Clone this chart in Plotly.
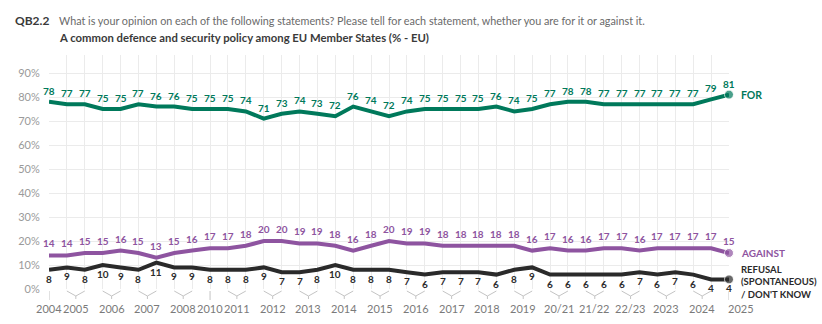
import plotly.graph_objects as go

# Survey waves, 2004 -> 2025 (one entry per wave)
year_labels = ["2004", "2005", "2006", "2007", "2008", "2010", "2011", "2012", "2013",
               "2014", "2015", "2016", "2017", "2018", "2019", "20/21", "21/22",
               "22/23", "2023", "2024", "2025"]
waves_per_year = [1, 2, 2, 2, 2, 1, 2, 2, 2, 2, 2, 2, 2, 2, 2, 2, 2, 2, 2, 2, 1]

for_values = [78, 77, 77, 75, 75, 77, 76, 76, 75, 75, 75, 74, 71, 73, 74, 73, 72, 76, 74, 72,
              74, 75, 75, 75, 75, 76, 74, 75, 77, 78, 78, 77, 77, 77, 77, 77, 77, 79, 81]
against_values = [14, 14, 15, 15, 16, 15, 13, 15, 16, 17, 17, 18, 20, 20, 19, 19, 18, 16, 18, 20,
                  19, 19, 18, 18, 18, 18, 18, 16, 17, 16, 16, 17, 17, 16, 17, 17, 17, 17, 15]
refusal_values = [8, 9, 8, 10, 9, 8, 11, 9, 9, 8, 8, 8, 9, 7, 7, 8, 10, 8, 8, 8,
                  7, 6, 7, 7, 7, 6, 8, 9, 6, 6, 6, 6, 6, 7, 6, 7, 6, 4, 4]

series = [
    ("FOR", for_values, "#00795b", 11, 10.5),
    ("AGAINST", against_values, "#8e54a0", 12, 10),
    ("REFUSAL<br>(SPONTANEOUS)<br>/ DON'T KNOW", refusal_values, "#2a2a2a", -9, 9.5),
]

FONT = "Segoe UI, Lato, sans-serif"
W, H = 822, 324
M_L, M_R, M_T, M_B = 49, 93, 55, 35
PLOT_H = H - M_T - M_B

x = list(range(len(for_values)))
fig = go.Figure()
annotations = []
shapes = []

for name, vals, color, shift, name_size in series:
    n = len(vals)
    fig.add_trace(go.Scatter(
        x=x, y=vals, mode="lines+markers", name=name,
        line=dict(color=color, width=4),
        marker=dict(size=[0] * (n - 1) + [9], color=color),
        cliponaxis=False, hoverinfo="skip", showlegend=False,
    ))
    for i, v in enumerate(vals):
        annotations.append(dict(
            x=i, y=v, xref="x", yref="y", text=f"<b>{v}</b>", showarrow=False,
            yshift=shift, font=dict(family=FONT, size=10, color=color),
        ))
    # series name at the end of its line
    ys = -3 if shift < 0 else 0
    annotations.append(dict(
        x=x[-1], y=vals[-1], xref="x", yref="y", text=f"<b>{name}</b>",
        showarrow=False, xanchor="left", xshift=10, yshift=ys, align="left",
        font=dict(family=FONT, size=name_size, color=color),
    ))

# period labels and brackets below the axis
def py(px_below):
    return -px_below / PLOT_H

pos = 0
for label, span in zip(year_labels, waves_per_year):
    if span == 1:
        cx = pos
        shapes.append(dict(type="line", xref="x", yref="paper", x0=cx, x1=cx,
                           y0=py(2), y1=py(11), line=dict(color="#c4c4c4", width=1)))
    else:
        a, b = pos, pos + span - 1
        cx = (a + b) / 2
        shapes.append(dict(
            type="path", xref="x", yref="paper",
            path=f"M {a},{py(2)} L {cx},{py(7)} L {b},{py(2)} M {cx},{py(7)} L {cx},{py(10)}",
            line=dict(color="#c4c4c4", width=1)))
    xs = 12 if pos == len(x) - 1 else 0
    annotations.append(dict(x=cx, y=py(19), xref="x", yref="paper", text=label,
                            showarrow=False, xshift=xs, yanchor="middle",
                            font=dict(family=FONT, size=11, color="#7a7a7a")))
    pos += span

# headings
def paper_x(px):
    return (px - M_L) / (W - M_L - M_R)

def paper_y(px):
    return (H - M_B - px) / PLOT_H

annotations += [
    dict(x=paper_x(13), y=paper_y(20), xref="paper", yref="paper", xanchor="left",
         yanchor="middle", showarrow=False, text="<b>QB2.2</b>",
         font=dict(family=FONT, size=12, color="#3a3a3a")),
    dict(x=paper_x(57), y=paper_y(20), xref="paper", yref="paper", xanchor="left",
         yanchor="middle", showarrow=False,
         text="What is your opinion on each of the following statements? Please tell for each statement, whether you are for it or against it.",
         font=dict(family=FONT, size=10.8, color="#6a6a6a")),
    dict(x=paper_x(57), y=paper_y(37), xref="paper", yref="paper", xanchor="left",
         yanchor="middle", showarrow=False,
         text="<b>A common defence and security policy among EU Member States (% - EU)</b>",
         font=dict(family=FONT, size=11.3, color="#3a3a3a")),
]

fig.update_layout(
    width=W, height=H,
    margin=dict(l=M_L, r=M_R, t=M_T, b=M_B),
    paper_bgcolor="white", plot_bgcolor="white",
    xaxis=dict(range=[0, len(x) - 1], tick0=0, dtick=1, showticklabels=False,
               showgrid=True, gridcolor="#ebebeb", gridwidth=1, zeroline=False,
               showline=False, fixedrange=True),
    yaxis=dict(range=[0, PLOT_H / 24 * 10], tickvals=[0, 10, 20, 30, 40, 50, 60, 70, 80, 90],
               ticktext=[f"{v}%" for v in range(0, 100, 10)],
               showgrid=True, gridcolor="#ebebeb", gridwidth=1, zeroline=False,
               ticks="outside", ticklen=6, tickcolor="rgba(0,0,0,0)",
               tickfont=dict(family=FONT, size=11, color="#9a9a9a"), fixedrange=True),
    annotations=annotations, shapes=shapes,
)

fig.write_html("out.html")
